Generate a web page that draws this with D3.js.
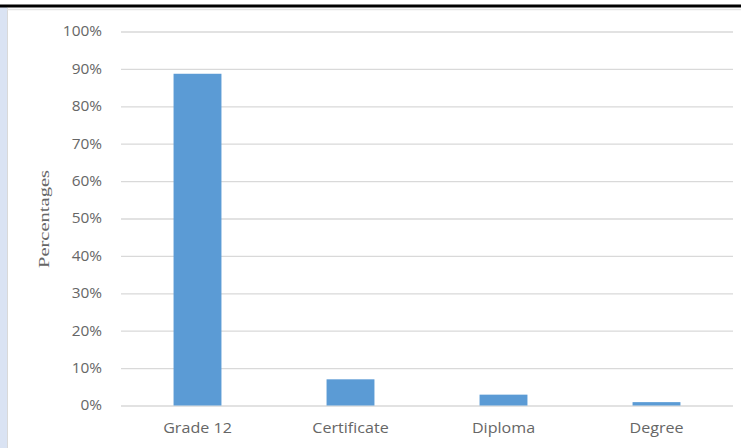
<!DOCTYPE html>
<html>
<head>
<meta charset="utf-8">
<script src="https://cdn.jsdelivr.net/npm/d3@7"></script>
<style>
  html, body { margin: 0; padding: 0; background: #fff; }
  svg { display: block; }
</style>
</head>
<body>
<svg id="chart"></svg>
<script>
const categories = ["Grade 12", "Certificate", "Diploma", "Degree"];
const values = [88.7, 7.0, 2.9, 0.9];
const tickValues = [0, 10, 20, 30, 40, 50, 60, 70, 80, 90, 100];

const width = 741,
  height = 448;

const svg = d3.select("#chart")
  .attr("width", width)
  .attr("height", height);

// frame bits around the pasted chart
svg.append("rect")
  .attr("x", 0).attr("y", 7)
  .attr("width", 7).attr("height", height - 7)
  .attr("fill", "#dae3f3");
svg.append("line")
  .attr("x1", 7.5).attr("x2", 7.5)
  .attr("y1", 8).attr("y2", height)
  .attr("stroke", "#d9d9d9");
svg.append("line")
  .attr("x1", 7).attr("x2", width)
  .attr("y1", 9.5).attr("y2", 9.5)
  .attr("stroke", "#e3e3e3").attr("stroke-width", 1.5);
svg.append("line")
  .attr("x1", 0).attr("x2", width)
  .attr("y1", 6).attr("y2", 6)
  .attr("stroke", "#000").attr("stroke-width", 3);

const plotLeft = 121, plotRight = 733, plotTop = 31.5, plotBottom = 405.5;

const x = d3.scaleBand()
  .domain(categories)
  .range([plotLeft, plotRight])
  .paddingInner(0.687)
  .paddingOuter(0.3435);

const y = d3.scaleLinear()
  .domain([0, 100])
  .range([plotBottom, plotTop]);

// gridlines + tick labels
const yAxis = svg.append("g")
  .attr("transform", `translate(${plotLeft},0)`)
  .call(d3.axisLeft(y)
    .tickValues(tickValues)
    .tickSize(-(plotRight - plotLeft))
    .tickFormat(d => d + "%"));
yAxis.select(".domain").remove();
yAxis.selectAll(".tick line")
  .attr("stroke", "#d9d9d9")
  .attr("stroke-width", 1.3);
// the picture's text is a bit stretched sideways
yAxis.selectAll(".tick text")
  .attr("x", 0)
  .attr("transform", "translate(-19,0) scale(1.1,1)")
  .attr("fill", "#666")
  .style("font-family", "'Open Sans', sans-serif")
  .style("font-size", "14px");

// bars
svg.append("g")
  .selectAll("rect")
  .data(values)
  .join("rect")
  .attr("x", (d, i) => x(categories[i]))
  .attr("y", d => y(d))
  .attr("width", x.bandwidth())
  .attr("height", d => y(0) - y(d))
  .attr("fill", "#5b9bd5");

// category labels
const xAxis = svg.append("g")
  .attr("transform", `translate(0,${plotBottom})`)
  .call(d3.axisBottom(x).tickSize(0).tickPadding(18));
xAxis.select(".domain").remove();
xAxis.selectAll(".tick text")
  .attr("transform", "scale(1.15,1)")
  .attr("fill", "#666")
  .style("font-family", "'Open Sans', sans-serif")
  .style("font-size", "14px");

// axis title
svg.append("text")
  .attr("transform", "translate(49,219) rotate(-90)")
  .attr("text-anchor", "middle")
  .attr("fill", "#666")
  .style("font-family", "'Liberation Serif', serif")
  .style("font-size", "15px")
  .attr("textLength", 98)
  .attr("lengthAdjust", "spacingAndGlyphs")
  .text("Percentages");
</script>
</body>
</html>
